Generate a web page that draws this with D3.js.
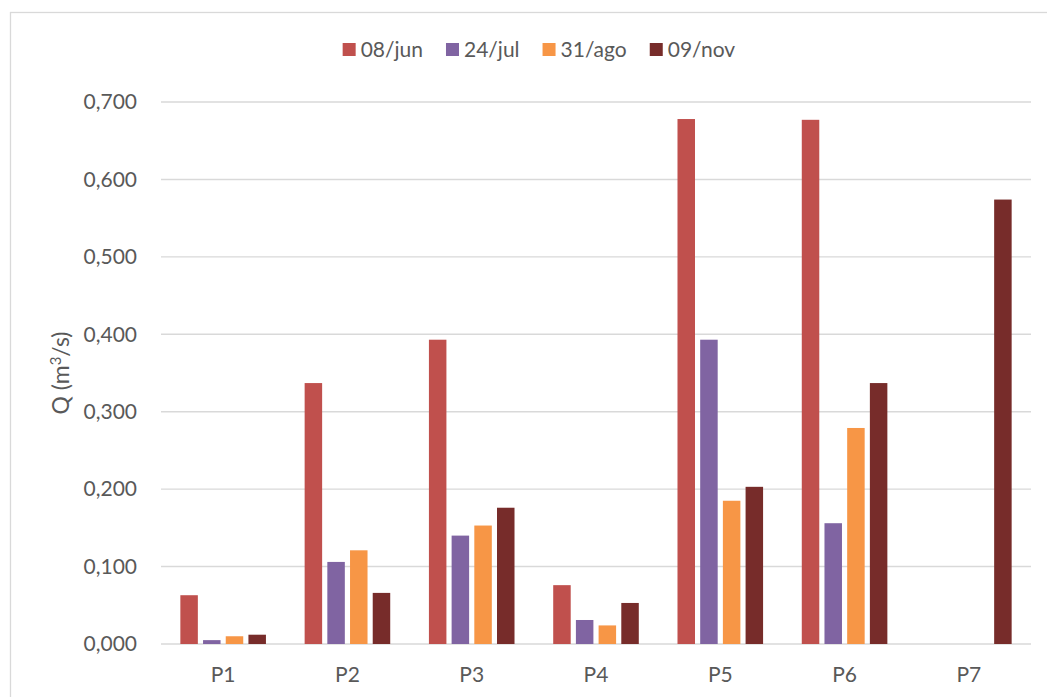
<!DOCTYPE html>
<html>
<head>
<meta charset="utf-8">
<script src="https://cdn.jsdelivr.net/npm/d3@7"></script>
<style>
  html, body { margin: 0; padding: 0; background: #fff; }
  svg { display: block; }
  text { font-family: Lato, "Open Sans", sans-serif; fill: #595959; }
</style>
</head>
<body>
<svg id="chart" width="1047" height="697"></svg>
<script>
// Flow per sampling point and campaign date
const categories = ["P1", "P2", "P3", "P4", "P5", "P6", "P7"];
const seriesNames = ["08/jun", "24/jul", "31/ago", "09/nov"];
const seriesColors = ["#C0504D", "#8064A2", "#F79646", "#772C2A"];
const jun = [0.063, 0.337, 0.393, 0.076, 0.678, 0.677, null];
const jul = [0.005, 0.106, 0.140, 0.031, 0.393, 0.156, null];
const ago = [0.010, 0.121, 0.153, 0.024, 0.185, 0.279, null];
const nov = [0.012, 0.066, 0.176, 0.053, 0.203, 0.337, 0.574];
const yTicks = [0, 0.1, 0.2, 0.3, 0.4, 0.5, 0.6, 0.7];
const yTitleParts = ["Q (m", "3", "/s)"];

const seriesValues = [jun, jul, ago, nov];

const svg = d3.select("#chart");
const W = 1047, H = 697;
const plot = { left: 161, right: 1031, top: 102, bottom: 644 };

// Outer chart frame (extends past the visible area on the right and bottom)
svg.append("rect")
  .attr("x", 10.5).attr("y", 12.5)
  .attr("width", W + 20).attr("height", H + 20)
  .attr("fill", "none").attr("stroke", "#D9D9D9").attr("stroke-width", 1.3);

const comma = d3.formatLocale({ decimal: ",", thousands: ".", grouping: [3], currency: ["", ""] });
const fmt = comma.format(".3f");

const y = d3.scaleLinear().domain([0, 0.7]).range([plot.bottom, plot.top]);
const x0 = d3.scaleBand().domain(categories).range([plot.left, plot.right]).padding(0);
const groupPad = 19.35;
const x1 = d3.scaleBand().domain(seriesNames)
  .range([groupPad, x0.bandwidth() - groupPad])
  .paddingInner(0.229).paddingOuter(0);

// Gridlines
svg.append("g").selectAll("line").data(yTicks).join("line")
  .attr("x1", plot.left).attr("x2", plot.right)
  .attr("y1", d => y(d)).attr("y2", d => y(d))
  .attr("stroke", "#D9D9D9").attr("stroke-width", 1.4);

// Y axis labels
const yAxis = d3.axisLeft(y).tickValues(yTicks).tickFormat(fmt).tickSize(0).tickPadding(0);
const yG = svg.append("g").attr("transform", `translate(137,0)`).call(yAxis);
yG.select(".domain").remove();
yG.selectAll("text").attr("font-size", 21).attr("fill", "#595959")
  .style("font-family", "Lato, 'Open Sans', sans-serif");

// Bars
const rows = [];
seriesNames.forEach((s, si) => {
  categories.forEach((c, ci) => {
    const v = seriesValues[si][ci];
    if (v !== null) rows.push({ s, c, v, color: seriesColors[si] });
  });
});
svg.append("g").selectAll("rect").data(rows).join("rect")
  .attr("x", d => x0(d.c) + x1(d.s))
  .attr("width", x1.bandwidth())
  .attr("y", d => y(d.v))
  .attr("height", d => y(0) - y(d.v))
  .attr("fill", d => d.color);

// Category axis
const xAxis = d3.axisBottom(x0).tickSize(0).tickPadding(0);
const xG = svg.append("g").attr("transform", `translate(0,${plot.bottom})`).call(xAxis);
xG.select(".domain").remove();
xG.selectAll("text").attr("font-size", 21).attr("fill", "#595959")
  .attr("dy", null).attr("y", 38)
  .style("font-family", "Lato, 'Open Sans', sans-serif");

// Y axis title with superscript exponent
const title = svg.append("text")
  .attr("transform", `translate(69,373) rotate(-90)`)
  .attr("text-anchor", "middle")
  .attr("font-size", 23);
title.append("tspan").text(yTitleParts[0]);
title.append("tspan").attr("font-size", 15).attr("dy", -8).text(yTitleParts[1]);
title.append("tspan").attr("dy", 8).text(yTitleParts[2]);

// Legend
const legend = svg.append("g");
const items = legend.selectAll("g").data(seriesNames).join("g");
items.append("rect").attr("width", 13).attr("height", 13).attr("y", -7)
  .attr("fill", (d, i) => seriesColors[i]);
items.append("text").attr("x", 18).attr("dy", "0.35em")
  .attr("font-size", 21).text(d => d);
let cx = 0;
items.each(function () {
  const w = this.getBBox().width;
  d3.select(this).attr("transform", `translate(${cx},0)`);
  cx += w + 23;
});
const totalW = cx - 23;
legend.attr("transform", `translate(${539 - totalW / 2},50)`);
</script>
</body>
</html>
